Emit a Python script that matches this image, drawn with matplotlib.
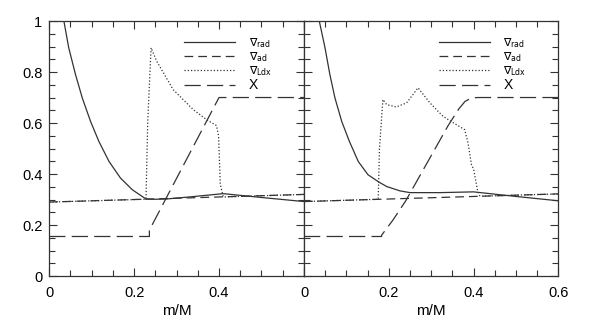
import matplotlib
matplotlib.use("Agg")
import matplotlib.pyplot as plt
from matplotlib.ticker import MultipleLocator

plt.rcParams['font.family'] = ['Liberation Sans', 'DejaVu Sans']
plt.rcParams['mathtext.fontset'] = 'dejavusans'

# ---------------- data: left panel ----------------
L_rad_x = [0.0346, 0.046, 0.062, 0.078, 0.0975, 0.117, 0.141, 0.168, 0.196, 0.228,
           0.25, 0.276, 0.33, 0.41, 0.5, 0.6]
L_rad_y = [1.0, 0.895, 0.79, 0.698, 0.606, 0.528, 0.449, 0.384, 0.338, 0.302,
           0.301, 0.302, 0.31, 0.323, 0.308, 0.292]
L_ad_x = [0.0, 0.6]
L_ad_y = [0.29, 0.32]
L_ldx_x = [0.0, 0.228, 0.232, 0.24, 0.253, 0.292, 0.339, 0.371, 0.394, 0.399,
           0.403, 0.41, 0.6]
L_ldx_y = [0.29, 0.301, 0.6, 0.895, 0.843, 0.731, 0.653, 0.613, 0.59, 0.55,
           0.36, 0.31, 0.32]
L_X_x = [0.0, 0.236, 0.236, 0.40, 0.6]
L_X_y = [0.155, 0.155, 0.18, 0.70, 0.70]

# ---------------- data: right panel ----------------
R_rad_x = [0.036, 0.0495, 0.061, 0.073, 0.089, 0.107, 0.128, 0.151, 0.177, 0.195,
           0.226, 0.25, 0.32, 0.40, 0.5, 0.6]
R_rad_y = [1.0, 0.895, 0.79, 0.698, 0.606, 0.528, 0.449, 0.397, 0.368, 0.351,
           0.334, 0.327, 0.327, 0.33, 0.312, 0.295]
R_ad_x = [0.0, 0.6]
R_ad_y = [0.292, 0.322]
R_ldx_x = [0.0, 0.175, 0.178, 0.186, 0.195, 0.218, 0.242, 0.269, 0.297, 0.328,
           0.36, 0.379, 0.387, 0.395, 0.40, 0.41, 0.415, 0.6]
R_ldx_y = [0.292, 0.301, 0.5, 0.692, 0.672, 0.663, 0.679, 0.738, 0.679, 0.626,
           0.593, 0.574, 0.521, 0.436, 0.42, 0.33, 0.313, 0.322]
R_X_x = [0.0, 0.183, 0.183, 0.21, 0.24, 0.34, 0.365, 0.38, 0.395, 0.41, 0.6]
R_X_y = [0.155, 0.155, 0.16, 0.22, 0.295, 0.59, 0.655, 0.685, 0.698, 0.70, 0.70]

x_ticks = [0, 0.2, 0.4, 0.6]
x_ticklabels_left = ['0', '0.2', '0.4', '']
x_ticklabels_right = ['0', '0.2', '0.4', '0.6']
y_ticks = [0, 0.2, 0.4, 0.6, 0.8, 1.0]
y_ticklabels = ['0', '0.2', '0.4', '0.6', '0.8', '1']
labels = [r'$\nabla_{\rm rad}$', r'$\nabla_{\rm ad}$', r'$\nabla_{\rm Ldx}$', 'X']

col = '#333333'
fig = plt.figure(figsize=(6, 3.3), dpi=100)
axL = fig.add_axes([0.082, 0.1636, 0.4245, 0.7727])
axR = fig.add_axes([0.5067, 0.1636, 0.4239, 0.7727])

panels = [
    (axL, L_rad_x, L_rad_y, L_ad_x, L_ad_y, L_ldx_x, L_ldx_y, L_X_x, L_X_y, x_ticklabels_left, True),
    (axR, R_rad_x, R_rad_y, R_ad_x, R_ad_y, R_ldx_x, R_ldx_y, R_X_x, R_X_y, x_ticklabels_right, False),
]

for ax, rx, ry, ax_, ay_, lx, ly, xx, xy, xtl, showy in panels:
    h1, = ax.plot(rx, ry, color=col, lw=0.9, ls='-')
    h2, = ax.plot(ax_, ay_, color=col, lw=0.9, ls=(0, (7, 4)))
    h3, = ax.plot(lx, ly, color=col, lw=0.9, ls=(0, (1, 1.6)))
    h4, = ax.plot(xx, xy, color=col, lw=0.9, ls=(0, (13, 5)))
    ax.set_xlim(0, 0.6)
    ax.set_ylim(0, 1)
    ax.set_xticks(x_ticks)
    ax.set_xticklabels(xtl)
    ax.set_yticks(y_ticks)
    if showy:
        ax.set_yticklabels(y_ticklabels)
    else:
        ax.set_yticklabels([])
    ax.xaxis.set_minor_locator(MultipleLocator(0.05))
    ax.yaxis.set_minor_locator(MultipleLocator(0.05))
    ax.tick_params(which='both', direction='in', top=True, right=True,
                   color=col, width=0.8)
    ax.tick_params(which='major', length=6, labelsize=10.5)
    ax.tick_params(which='minor', length=4)
    ax.tick_params(axis='x', pad=7)
    ax.tick_params(axis='y', pad=5)
    for s in ax.spines.values():
        s.set_color(col)
        s.set_linewidth(0.9)
    ax.set_xlabel('m/M', fontsize=11, labelpad=3)
    leg = ax.legend([h1, h2, h3, h4], labels, loc='upper left',
                    bbox_to_anchor=(0.53, 0.94), frameon=False,
                    handlelength=4.6, handletextpad=1.2, labelspacing=0.0,
                    fontsize=8, borderaxespad=0, borderpad=0)
    txts = leg.get_texts()
    txts[3].set_fontsize(10)

fig.savefig('out.png', dpi=100)
